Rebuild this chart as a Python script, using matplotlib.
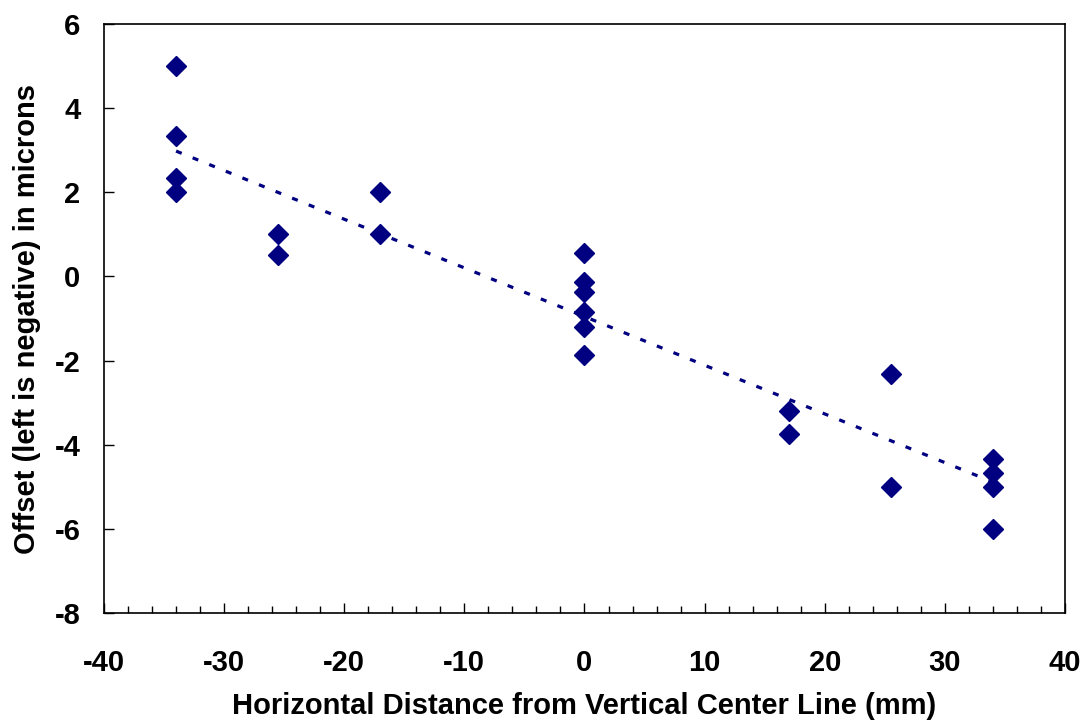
import numpy as np
import matplotlib
matplotlib.use("Agg")
import matplotlib.pyplot as plt
from matplotlib.ticker import MultipleLocator

# Data
x_vals = [-34, -34, -34, -34,
          -25.5, -25.5,
          -17, -17,
          0, 0, 0, 0, 0, 0,
          17, 17,
          25.5, 25.5,
          34, 34, 34, 34]
y_vals = [5.0, 3.33, 2.33, 2.0,
          1.0, 0.5,
          2.0, 1.0,
          0.55, -0.14, -0.37, -0.85, -1.2, -1.86,
          -3.2, -3.75,
          -2.33, -5.0,
          -4.33, -4.67, -5.0, -6.0]
x_ticks = [-40, -30, -20, -10, 0, 10, 20, 30, 40]
y_ticks = [-8, -6, -4, -2, 0, 2, 4, 6]

plt.rcParams['font.family'] = ['Liberation Sans', 'DejaVu Sans']
plt.rcParams['font.weight'] = 'bold'
plt.rcParams['axes.unicode_minus'] = False

fig = plt.figure(figsize=(10.81, 7.21), dpi=100)
ax = fig.add_axes([0.0962, 0.1498, 0.8890, 0.8169])

color = '#000080'
xa = np.array(x_vals)
ya = np.array(y_vals)
ax.plot(xa, ya, linestyle='none', marker='D', markersize=10.5, color=color, zorder=3)

slope, intercept = np.polyfit(xa, ya, 1)
xl = np.array([xa.min(), xa.max()])
ax.plot(xl, slope * xl + intercept, color=color, linewidth=2.3,
        dashes=(1.9, 3.7), zorder=2)

ax.set_xlim(-40, 40)
ax.set_ylim(-8, 6)
ax.set_xticks(x_ticks)
ax.set_yticks(y_ticks)
ax.xaxis.set_minor_locator(MultipleLocator(2))

for s in ax.spines.values():
    s.set_linewidth(1.2)
    s.set_color('black')

fs = 21
ax.tick_params(axis='x', which='major', direction='in', length=7, width=1.0,
               pad=26, labelsize=fs)
ax.tick_params(axis='x', which='minor', direction='in', length=5, width=1.0)
ax.tick_params(axis='y', which='major', direction='in', length=7, width=1.0,
               pad=17, labelsize=fs)
for lab in ax.get_xticklabels() + ax.get_yticklabels():
    lab.set_fontweight('bold')

ax.set_xlabel('Horizontal Distance from Vertical Center Line (mm)',
              fontsize=fs, fontweight='bold', labelpad=11)
ax.set_ylabel('Offset (left is negative) in microns',
              fontsize=fs, fontweight='bold', labelpad=10)

fig.savefig('out.png', dpi=100)
